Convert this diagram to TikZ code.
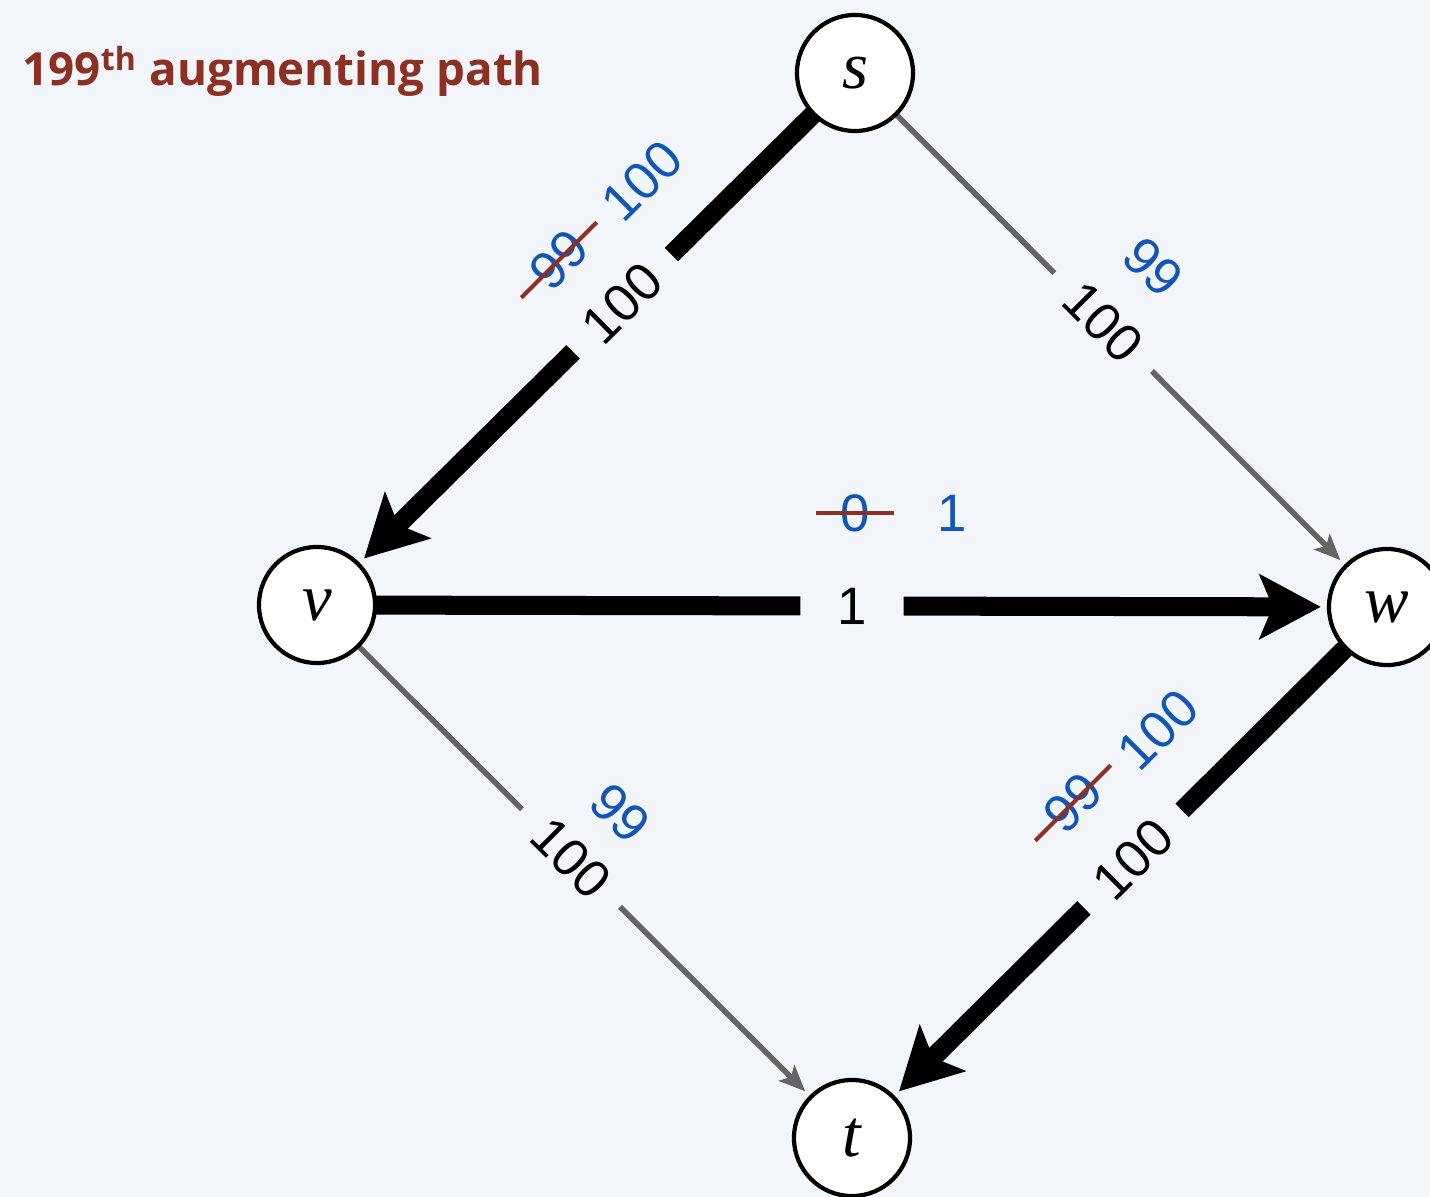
\documentclass[tikz,border=0pt]{standalone}
\usepackage{fontspec}
\setmainfont{Liberation Sans}
\newfontfamily\titlefont{Open Sans}
\newfontfamily\vertexfont{Liberation Serif}
\usetikzlibrary{arrows.meta,backgrounds}

\definecolor{bgcolor}{RGB}{242,246,250}
\definecolor{flowblue}{RGB}{17,85,185}
\definecolor{strikered}{RGB}{140,48,36}
\definecolor{edgegray}{RGB}{100,100,100}

\tikzset{
  vertex/.style={circle, draw, line width=1.2pt, fill=white, minimum size=1.16cm,
    inner sep=0pt, font=\vertexfont\itshape\fontsize{19}{19}\selectfont},
  pathedge/.style={line width=0.19cm, shorten <=-0.1cm, shorten >=0.06cm,
    -{Stealth[length=0.61cm,width=0.64cm,inset=0.13cm]}},
  plainedge/.style={line width=0.055cm, edgegray, shorten <=-0.1cm, shorten >=0.06cm,
    -{Stealth[length=0.26cm,width=0.22cm,inset=0.06cm]}},
  capnum/.style={sloped, fill=bgcolor, inner xsep=0.25cm, text=black,
    font=\fontsize{15}{15}\selectfont},
  flownum/.style={text=flowblue, inner sep=0pt, font=\fontsize{15}{15}\selectfont},
  oldflow/.style={flownum, inner xsep=0.24cm, outer sep=0pt},
  strike/.style={strikered, line width=0.04cm}
}

\begin{document}
\begin{tikzpicture}[x=0.01cm, y=-0.01cm]
  \useasboundingbox (0,0) rectangle (1430,1197);

  % title
  \node[anchor=base west, inner sep=0pt, text=strikered,
    font=\titlefont\bfseries\fontsize{13}{13}\selectfont] (title) at (22,86)
    {199\textsuperscript{th} augmenting path};

  % vertices
  \node[vertex] (s) at (855,73) {s};
  \node[vertex] (v) at (317,605) {v};
  \node[vertex] (w) at (1387,607) {w};
  \node[vertex] (t) at (852,1138) {t};

  % edges with capacities
  \begin{scope}[on background layer]
    \fill[bgcolor] (0,0) rectangle (1430,1197);
    \draw[pathedge] (s) -- node[capnum, pos=0.42] (capsv) {100} (v);
    \draw[plainedge] (s) -- node[capnum, pos=0.46] (capsw) {100} (w);
    \draw[pathedge] (v) -- node[capnum, pos=0.5, inner xsep=0.37cm] (capvw) {1} (w);
    \draw[plainedge] (v) -- node[capnum, pos=0.47] (capvt) {100} (t);
    \draw[pathedge] (w) -- node[capnum, pos=0.47] (capwt) {100} (t);
  \end{scope}

  % flows
  \node[oldflow, rotate=45] (oldsv) at (559,260) {99};
  \draw[strike] (oldsv.west) -- (oldsv.east);
  \node[flownum, rotate=45] (flowsv) at (642,181) {100};

  \node[flownum, rotate=-45] (flowsw) at (1153,267) {99};

  \node[oldflow] (oldvw) at (855,513) {0};
  \draw[strike] (oldvw.west) -- (oldvw.east);
  \node[flownum] (flowvw) at (952,513) {1};

  \node[flownum, rotate=-45] (flowvt) at (620,813) {99};

  \node[oldflow, rotate=45] (oldwt) at (1073,803) {99};
  \draw[strike] (oldwt.west) -- (oldwt.east);
  \node[flownum, rotate=45] (flowwt) at (1158,730) {100};
\end{tikzpicture}
\end{document}
